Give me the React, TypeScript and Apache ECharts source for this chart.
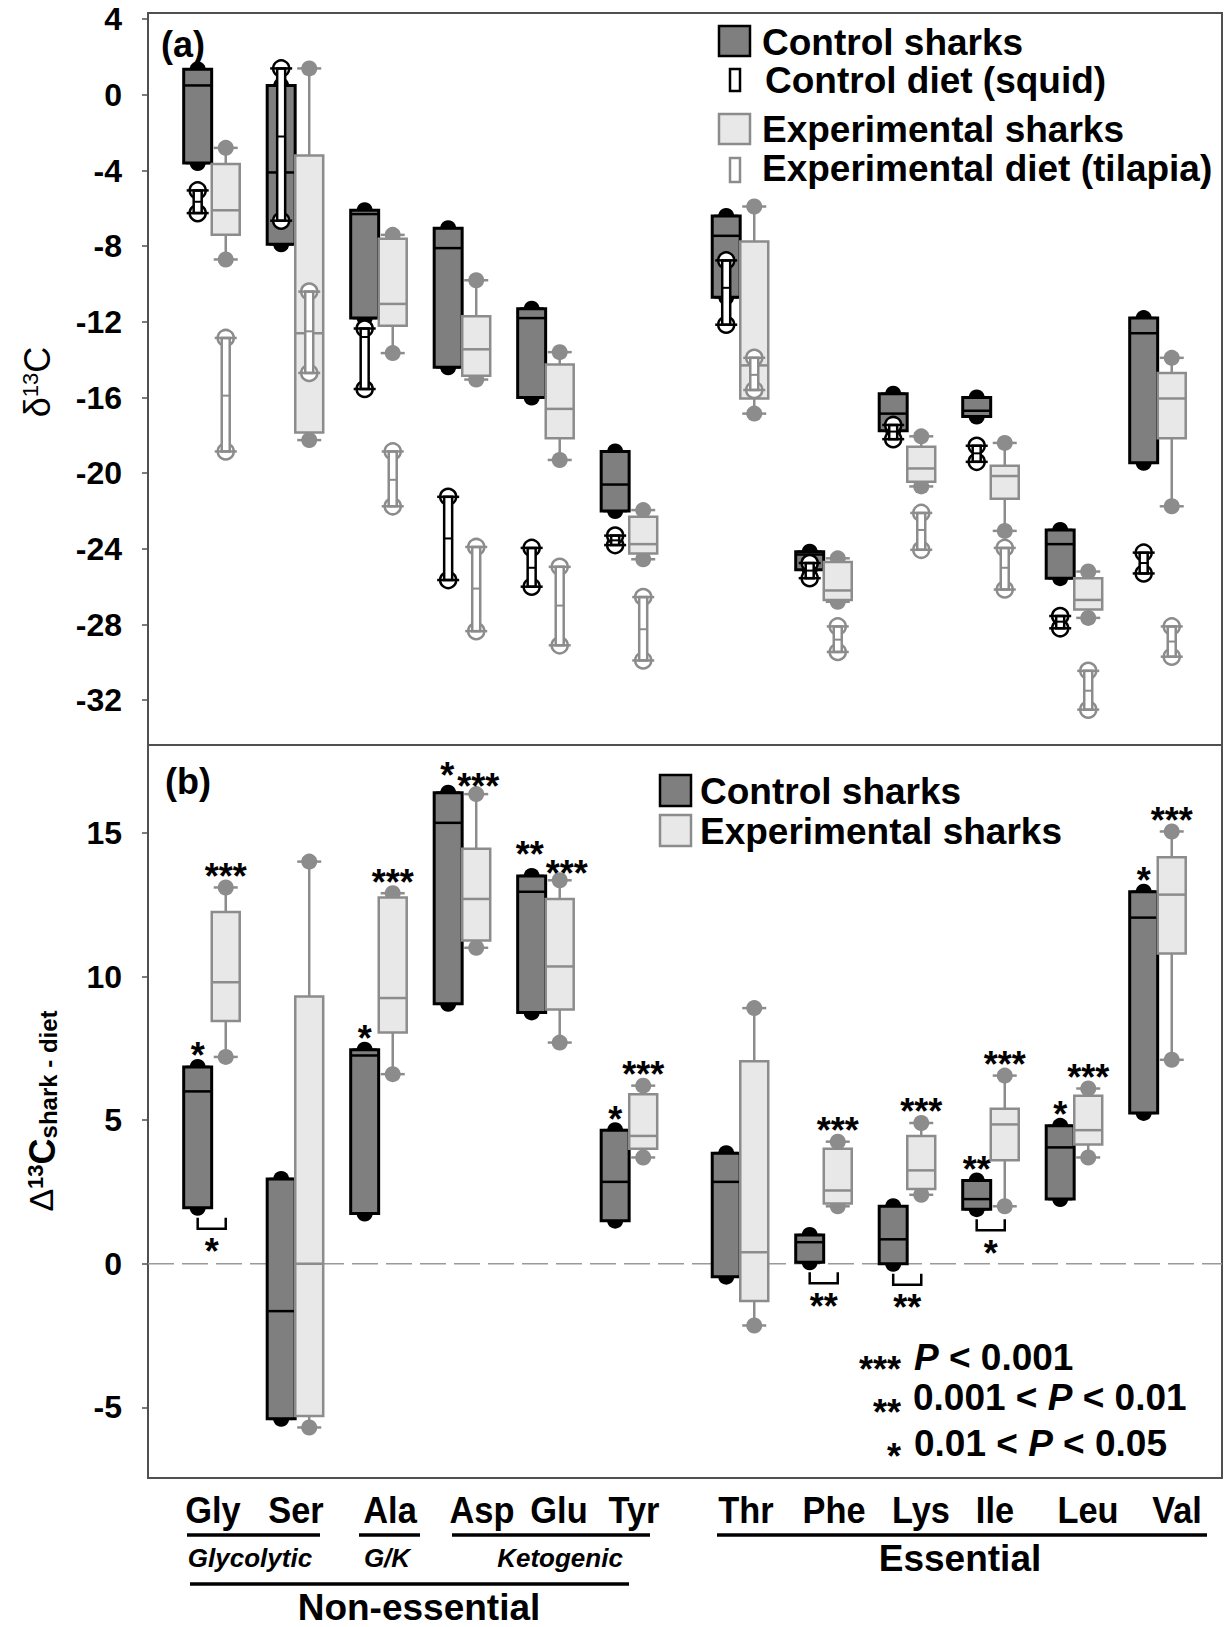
import React, { useEffect, useRef } from "react";
import * as echarts from "echarts";

// ---------------- data ----------------
const categories = ["Gly", "Ser", "Ala", "Asp", "Glu", "Tyr", "Thr", "Phe", "Lys", "Ile", "Leu", "Val"];

// panel (a): delta13C, [min, q1, median, q3, max]
const ctrlSharksA = [
  [-3.6, -3.6, 0.5, 1.35, 1.35],
  [-7.9, -7.9, -4.1, 0.5, 0.5],
  [-11.8, -11.8, -6.3, -6.1, -6.1],
  [-14.4, -14.4, -8.1, -7.05, -7.05],
  [-16.0, -16.0, -11.8, -11.3, -11.3],
  [-22.0, -22.0, -20.6, -18.85, -18.85],
  [-10.7, -10.7, -7.45, -6.4, -6.4],
  [-25.1, -25.1, -24.3, -24.15, -24.15],
  [-17.75, -17.75, -16.85, -15.8, -15.8],
  [-17.0, -17.0, -16.7, -16.0, -16.0],
  [-25.55, -25.55, -23.75, -23.0, -23.0],
  [-19.45, -19.45, -12.6, -11.8, -11.8],
];
const expSharksA = [
  [-8.7, -7.4, -6.1, -3.65, -2.8],
  [-18.25, -17.85, -12.6, -3.2, 1.4],
  [-13.65, -12.2, -11.05, -7.6, -7.4],
  [-15.05, -14.85, -13.45, -11.7, -9.8],
  [-19.3, -18.15, -16.6, -14.25, -13.6],
  [-24.55, -24.25, -23.75, -22.3, -21.95],
  [-16.85, -16.05, -14.3, -7.75, -5.9],
  [-26.8, -26.7, -26.2, -24.7, -24.5],
  [-20.7, -20.45, -19.75, -18.6, -18.05],
  [-23.05, -21.35, -20.15, -19.6, -18.4],
  [-27.65, -27.2, -26.7, -25.55, -25.2],
  [-21.75, -18.15, -16.05, -14.7, -13.9],
];
// diets: [min, median, max]
const squidDietA = [
  [-6.25, -5.65, -5.05],
  [-6.65, -2.2, 1.4],
  [-15.55, -12.8, -12.35],
  [-25.65, -23.45, -21.25],
  [-26.0, -25.0, -23.95],
  [-23.8, -23.55, -23.3],
  [-12.15, -10.2, -8.75],
  [-25.55, -25.15, -24.75],
  [-18.2, -17.8, -17.45],
  [-19.4, -18.95, -18.55],
  [-28.2, -27.85, -27.55],
  [-25.3, -24.75, -24.2],
];
const tilapiaDietA = [
  [-18.85, -15.9, -12.85],
  [-14.7, -12.5, -10.4],
  [-21.75, -20.35, -18.85],
  [-28.35, -26.1, -23.9],
  [-29.1, -27.0, -24.95],
  [-29.9, -28.25, -26.55],
  [-15.6, -14.8, -13.9],
  [-29.45, -28.8, -28.1],
  [-24.05, -23.0, -22.1],
  [-26.15, -25.0, -23.95],
  [-32.5, -31.5, -30.45],
  [-29.7, -28.9, -28.1],
];

// panel (b): Delta13C shark - diet, [min, q1, median, q3, max]
const ctrlSharksB = [
  [1.95, 1.95, 6.0, 6.85, 6.85],
  [-5.4, -5.4, -1.65, 2.95, 2.95],
  [1.75, 1.75, 7.25, 7.45, 7.45],
  [9.05, 9.05, 15.35, 16.4, 16.4],
  [8.75, 8.75, 12.95, 13.5, 13.5],
  [1.5, 1.5, 2.85, 4.65, 4.65],
  [-0.45, -0.45, 2.85, 3.85, 3.85],
  [0.05, 0.05, 0.75, 1.0, 1.0],
  [0.0, 0.0, 0.85, 2.0, 2.0],
  [1.9, 1.9, 2.25, 2.9, 2.9],
  [2.25, 2.25, 4.05, 4.8, 4.8],
  [5.25, 5.25, 12.05, 12.95, 12.95],
];
const expSharksB = [
  [7.2, 8.45, 9.8, 12.25, 13.1],
  [-5.7, -5.3, 0.0, 9.3, 14.0],
  [6.6, 8.05, 9.25, 12.75, 12.9],
  [11.0, 11.25, 12.7, 14.45, 16.35],
  [7.7, 8.85, 10.35, 12.7, 13.35],
  [3.7, 4.0, 4.45, 5.9, 6.2],
  [-2.15, -1.3, 0.4, 7.05, 8.9],
  [2.0, 2.1, 2.55, 4.0, 4.25],
  [2.4, 2.6, 3.25, 4.45, 4.9],
  [2.0, 3.6, 4.85, 5.4, 6.55],
  [3.7, 4.15, 4.65, 5.85, 6.1],
  [7.1, 10.8, 12.85, 14.15, 15.05],
];
const sigCtrlB = ["*", "", "*", "*", "**", "*", "", "", "", "**", "*", "*"];
const sigExpB = ["***", "", "***", "***", "***", "***", "", "***", "***", "***", "***", "***"];
const sigPairB = ["*", "", "", "", "", "", "", "**", "**", "*", "", ""];

const yTicksA = [4, 0, -4, -8, -12, -16, -20, -24, -28, -32];
const yTicksB = [15, 10, 5, 0, -5];

// ---------------- layout / style ----------------
const FONT = '"Liberation Sans", Arial, Helvetica, sans-serif';
const W = 1225;
const H = 1627;
const X_MIN = 0.237;
const X_MAX = 13.1;
const Y_A: [number, number] = [-34.37, 4.33];
const Y_B: [number, number] = [-7.46, 18.06];
const GROUP_GAP = 0.33;
const OFF = 0.168;
const BOXW = 0.335;
const DARK = "#7f7f7f";
const LIGHT = "#e8e8e8";
const GRAY = "#8c8c8c";
const FRAME = "#505050";
const LABEL_X = [213, 296, 390, 482, 559, 634, 746, 834, 921, 995, 1088, 1177];
// hand-placed nudges [dx, dy] (px) of the significance stars, as in the original figure
const STAR_NUDGE_CTRL = [[0, 0], [0, 0], [0, 0], [-1, -6], [-2, -10], [0, 0], [0, 0], [0, 0], [0, 0], [0, 0], [0, 0], [0, 0]];
const STAR_NUDGE_EXP = [[0, 0], [0, 0], [0, 0], [2, 3], [7, 4], [0, 0], [0, 0], [0, 0], [0, 0], [0, 0], [0, 0], [0, 0]];

const xPos = (i: number) => i + 1 + (i >= 6 ? GROUP_GAP : 0);

function ln(x1: number, y1: number, x2: number, y2: number, stroke: string, lw: number) {
  return { type: "line", shape: { x1, y1, x2, y2 }, style: { stroke, lineWidth: lw } };
}

function star(x: number, y: number, text: string) {
  return {
    type: "text",
    x,
    y,
    style: {
      text,
      fill: "#000",
      fontSize: 36,
      fontWeight: "bold",
      fontFamily: FONT,
      align: "center",
      verticalAlign: "middle",
      textAlign: "center",
      textVerticalAlign: "middle",
    },
  };
}

function boxRender(dark: boolean, sig?: string[], nudge?: number[][]) {
  return (params: any, api: any) => {
    const i = params.dataIndex;
    const xv = api.value(0) + (dark ? -OFF : OFF);
    const v = [1, 2, 3, 4, 5].map((k) => api.value(k));
    const y = v.map((val) => api.coord([xv, val])[1]);
    const cx = api.coord([xv, v[2]])[0];
    const w = api.size([BOXW, 0])[0];
    const stroke = dark ? "#000" : GRAY;
    const fill = dark ? DARK : LIGHT;
    const ch: any[] = [];
    ch.push(ln(cx, y[4], cx, y[0], stroke, 2.5));
    [y[0], y[4]].forEach((yy) => {
      ch.push({ type: "circle", shape: { cx, cy: yy, r: 8 }, style: { fill: stroke } });
      ch.push(ln(cx - 12, yy, cx + 12, yy, stroke, 2.5));
    });
    ch.push({
      type: "rect",
      shape: { x: cx - w / 2, y: y[3], width: w, height: y[1] - y[3] },
      style: { fill, stroke, lineWidth: dark ? 3 : 2.5 },
    });
    ch.push(ln(cx - w / 2, y[2], cx + w / 2, y[2], stroke, 2.5));
    if (sig && sig[i]) {
      const n = nudge ? nudge[i] : [0, 0];
      ch.push(star(cx + n[0], y[4] - 11 + n[1], sig[i]));
    }
    return { type: "group", children: ch };
  };
}

function dietRender(dark: boolean) {
  return (params: any, api: any) => {
    const xv = api.value(0) + (dark ? -OFF : OFF);
    const v = [1, 2, 3].map((k) => api.value(k));
    const y = v.map((val) => api.coord([xv, val])[1]);
    const cx = api.coord([xv, v[1]])[0];
    const stroke = dark ? "#000" : GRAY;
    const bw = 8;
    const ch: any[] = [];
    [y[0], y[2]].forEach((yy) => {
      ch.push({ type: "circle", shape: { cx, cy: yy, r: 8 }, style: { fill: "#fff", stroke, lineWidth: 2.5 } });
    });
    ch.push({
      type: "rect",
      shape: { x: cx - bw / 2, y: y[2], width: bw, height: y[0] - y[2] },
      style: { fill: "#fff", stroke, lineWidth: 2.5 },
    });
    [y[0], y[2]].forEach((yy) => ch.push(ln(cx - 11, yy, cx + 11, yy, stroke, 2.5)));
    ch.push(ln(cx - bw / 2, y[1], cx + bw / 2, y[1], stroke, 2));
    return { type: "group", children: ch };
  };
}

function pairRender(params: any, api: any) {
  const i = params.dataIndex;
  const s = sigPairB[i];
  if (!s) return { type: "group", children: [] };
  const xv = api.value(0);
  const yLow = api.coord([xv, api.value(1)])[1];
  const xc = api.coord([xv - OFF, 0])[0];
  const xe = api.coord([xv + OFF, 0])[0];
  return {
    type: "group",
    children: [
      {
        type: "polyline",
        shape: { points: [[xc, yLow + 10], [xc, yLow + 21], [xe, yLow + 21], [xe, yLow + 10]] },
        style: { stroke: "#000", lineWidth: 2.5, fill: null },
      },
      star((xc + xe) / 2, yLow + 44, s),
    ],
  };
}

function zeroRender(params: any, api: any) {
  const cs = params.coordSys;
  const y = api.coord([X_MIN, 0])[1];
  return {
    type: "line",
    shape: { x1: cs.x, y1: y, x2: cs.x + cs.width, y2: y },
    style: { stroke: "#9a9a9a", lineWidth: 1.5, lineDash: [26, 8] },
  };
}

function txt(x: number, y: number, text: string, o: any = {}) {
  const align = o.align || "left";
  return {
    type: "text",
    x,
    y,
    scaleX: o.scaleX || 1,
    rotation: o.rotation || 0,
    style: {
      text,
      fill: "#000",
      fontSize: o.size || 37,
      fontWeight: o.weight || "bold",
      fontStyle: o.italic ? "italic" : "normal",
      fontFamily: FONT,
      align,
      verticalAlign: "middle",
      textAlign: align,
      textVerticalAlign: "middle",
      rich: o.rich,
    },
  };
}

function rect(x: number, y: number, w: number, h: number, fill: string, stroke: string, lw = 2.5) {
  return { type: "rect", shape: { x, y, width: w, height: h }, style: { fill, stroke, lineWidth: lw } };
}

function hline(x1: number, x2: number, y: number) {
  return { type: "line", shape: { x1, y1: y, x2, y2: y }, style: { stroke: "#000", lineWidth: 3.5 } };
}

const richBase = (size: number, weight = "bold", italic = false, extra: any = {}) => ({
  fontSize: size,
  fontWeight: weight,
  fontStyle: italic ? "italic" : "normal",
  fontFamily: FONT,
  fill: "#000",
  color: "#000",
  ...extra,
});

function buildOption() {
  const yAxisCommon = (ticks: number[]) => ({
    type: "value",
    splitLine: { show: false },
    axisLine: { show: false },
    axisTick: { show: true, length: 6, customValues: ticks, lineStyle: { color: FRAME, width: 1.5 } },
    axisLabel: {
      customValues: ticks,
      fontSize: 32,
      fontWeight: "bold",
      fontFamily: FONT,
      color: "#000",
      margin: 26,
    },
  });

  const ctrlDataA = categories.map((_, i) => [xPos(i), ...ctrlSharksA[i]]);
  const expDataA = categories.map((_, i) => [xPos(i), ...expSharksA[i]]);
  const squidData = categories.map((_, i) => [xPos(i), ...squidDietA[i]]);
  const tilapiaData = categories.map((_, i) => [xPos(i), ...tilapiaDietA[i]]);
  const ctrlDataB = categories.map((_, i) => [xPos(i), ...ctrlSharksB[i]]);
  const expDataB = categories.map((_, i) => [xPos(i), ...expSharksB[i]]);
  const pairData = categories.map((_, i) => [xPos(i), Math.min(ctrlSharksB[i][0], expSharksB[i][0])]);

  const graphic: any[] = [
    // panel tags
    txt(183, 44, "(a)", { align: "center", size: 36 }),
    txt(188, 781, "(b)", { align: "center", size: 36 }),
    // legend (a)
    rect(719, 26, 31, 30, DARK, "#000"),
    txt(762, 42, "Control sharks"),
    rect(730, 69, 10, 22, "#fff", "#000"),
    txt(765, 80, "Control diet (squid)"),
    rect(719, 114, 31, 30, LIGHT, GRAY),
    txt(762, 129, "Experimental sharks"),
    rect(730, 158, 10, 24, "#fff", GRAY),
    txt(762, 168, "Experimental diet (tilapia)"),
    // legend (b)
    rect(660, 775, 31, 31, DARK, "#000"),
    txt(700, 791, "Control sharks"),
    rect(660, 815, 31, 31, LIGHT, GRAY),
    txt(700, 831, "Experimental sharks"),
    // p-value key
    txt(901, 1369, "***", { align: "right", size: 36 }),
    txt(914, 1357, "{i|P}{n| < 0.001}", { rich: { i: richBase(37, "bold", true), n: richBase(37) } }),
    txt(901, 1412, "**", { align: "right", size: 36 }),
    txt(913, 1397, "{n|0.001 < }{i|P}{n| < 0.01}", { rich: { i: richBase(37, "bold", true), n: richBase(37) } }),
    txt(901, 1456, "*", { align: "right", size: 36 }),
    txt(914, 1443, "{n|0.01 < }{i|P}{n| < 0.05}", { rich: { i: richBase(37, "bold", true), n: richBase(37) } }),
    // y axis titles
    txt(37, 382, "{d|δ}{s|13}{c|C}", {
      align: "center",
      rotation: Math.PI / 2,
      rich: {
        d: richBase(36, "normal", false, { verticalAlign: "top", lineHeight: 36 }),
        s: richBase(22, "normal", false, { verticalAlign: "top", lineHeight: 22 }),
        c: richBase(36, "normal", false, { verticalAlign: "top", lineHeight: 36 }),
      },
    }),
    txt(42, 1111, "{d|Δ}{s|13}{c|C}{b|shark - diet}", {
      align: "center",
      rotation: Math.PI / 2,
      rich: {
        d: richBase(34, "normal", false, { verticalAlign: "top", lineHeight: 36 }),
        s: richBase(22, "bold", false, { verticalAlign: "top", lineHeight: 22 }),
        c: richBase(36, "bold", false, { verticalAlign: "top", lineHeight: 36 }),
        b: richBase(24, "bold", false, { verticalAlign: "bottom", lineHeight: 24, padding: [22, 0, 0, 0] }),
      },
    }),
    // amino-acid labels and groupings
    ...categories.map((c, i) => txt(LABEL_X[i], 1511, c, { align: "center", size: 37, scaleX: 0.93 })),
    hline(187, 320, 1535),
    hline(359, 420, 1535),
    hline(452, 650, 1535),
    hline(717, 1207, 1535),
    txt(250, 1558, "Glycolytic", { align: "center", size: 26, italic: true }),
    txt(387, 1558, "G/K", { align: "center", size: 26, italic: true }),
    txt(560, 1558, "Ketogenic", { align: "center", size: 26, italic: true }),
    txt(960, 1558, "Essential", { align: "center", size: 37 }),
    hline(190, 629, 1584),
    txt(419, 1607, "Non-essential", { align: "center", size: 37 }),
  ];

  return {
    animation: false,
    backgroundColor: "#ffffff",
    grid: [
      { left: 148, top: 13, width: 1074, height: 732, show: true, borderColor: FRAME, borderWidth: 2, backgroundColor: "transparent" },
      { left: 148, top: 745, width: 1074, height: 733, show: true, borderColor: FRAME, borderWidth: 2, backgroundColor: "transparent" },
    ],
    xAxis: [0, 1].map((g) => ({ type: "value", gridIndex: g, min: X_MIN, max: X_MAX, show: false })),
    yAxis: [
      { ...yAxisCommon(yTicksA), gridIndex: 0, min: Y_A[0], max: Y_A[1] },
      { ...yAxisCommon(yTicksB), gridIndex: 1, min: Y_B[0], max: Y_B[1] },
    ],
    series: [
      {
        type: "custom", name: "zero", xAxisIndex: 1, yAxisIndex: 1, data: [[X_MIN, 0]],
        renderItem: zeroRender, z: 1, silent: true, clip: false,
      },
      {
        type: "custom", name: "Control sharks", xAxisIndex: 0, yAxisIndex: 0, data: ctrlDataA,
        renderItem: boxRender(true), encode: { x: 0, y: [1, 2, 3, 4, 5] }, z: 2, clip: false, silent: true,
      },
      {
        type: "custom", name: "Experimental sharks", xAxisIndex: 0, yAxisIndex: 0, data: expDataA,
        renderItem: boxRender(false), encode: { x: 0, y: [1, 2, 3, 4, 5] }, z: 2, clip: false, silent: true,
      },
      {
        type: "custom", name: "Control diet (squid)", xAxisIndex: 0, yAxisIndex: 0, data: squidData,
        renderItem: dietRender(true), encode: { x: 0, y: [1, 2, 3] }, z: 3, clip: false, silent: true,
      },
      {
        type: "custom", name: "Experimental diet (tilapia)", xAxisIndex: 0, yAxisIndex: 0, data: tilapiaData,
        renderItem: dietRender(false), encode: { x: 0, y: [1, 2, 3] }, z: 3, clip: false, silent: true,
      },
      {
        type: "custom", name: "Control sharks Δ", xAxisIndex: 1, yAxisIndex: 1, data: ctrlDataB,
        renderItem: boxRender(true, sigCtrlB, STAR_NUDGE_CTRL), encode: { x: 0, y: [1, 2, 3, 4, 5] }, z: 2, clip: false, silent: true,
      },
      {
        type: "custom", name: "Experimental sharks Δ", xAxisIndex: 1, yAxisIndex: 1, data: expDataB,
        renderItem: boxRender(false, sigExpB, STAR_NUDGE_EXP), encode: { x: 0, y: [1, 2, 3, 4, 5] }, z: 2, clip: false, silent: true,
      },
      {
        type: "custom", name: "pairwise", xAxisIndex: 1, yAxisIndex: 1, data: pairData,
        renderItem: pairRender, z: 3, clip: false, silent: true,
      },
    ],
    graphic,
  };
}

export default function App() {
  const ref = useRef<HTMLDivElement>(null);
  useEffect(() => {
    document.body.style.margin = "0";
    if (!ref.current) return;
    const chart = echarts.init(ref.current, undefined, { renderer: "svg" });
    chart.setOption(buildOption() as any);
    return () => chart.dispose();
  }, []);
  return <div ref={ref} style={{ width: W, height: H, background: "#fff" }} />;
}
